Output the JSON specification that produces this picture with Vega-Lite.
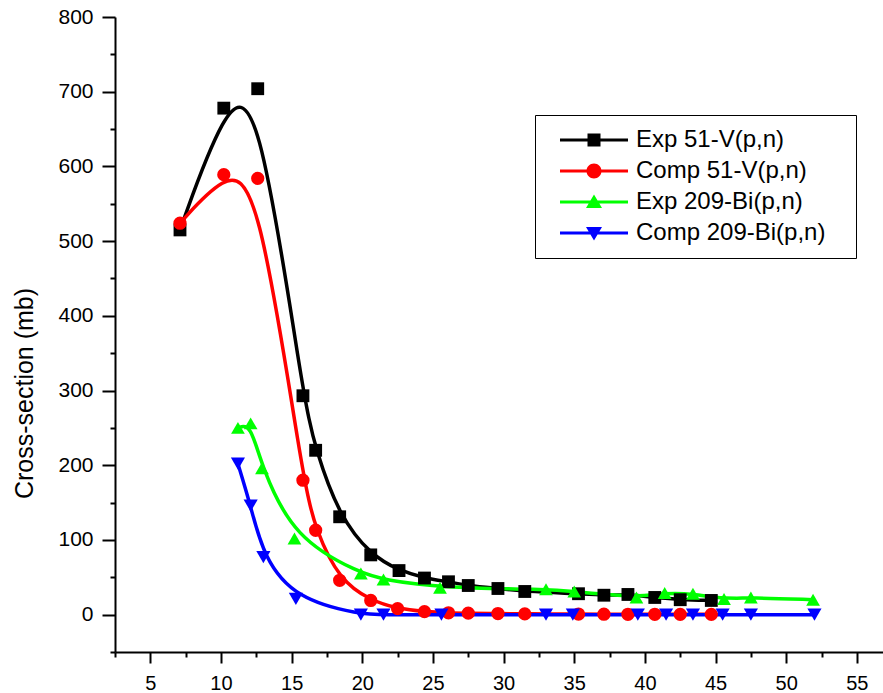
{
  "$schema": "https://vega.github.io/schema/vega-lite/v6.json",
  "autosize": "none",
  "width": 768,
  "height": 635,
  "padding": {"left": 115, "top": 17, "right": 0, "bottom": 41},
  "background": "white",
  "config": {
    "view": {"stroke": null},
    "axis": {
      "grid": false,
      "domainColor": "black",
      "domainWidth": 2,
      "tickColor": "black",
      "tickWidth": 2,
      "labelColor": "black",
      "labelFont": "Liberation Sans",
      "labelFontSize": 20,
      "titleColor": "black",
      "titleFont": "Liberation Sans Narrow, Liberation Sans",
      "titleFontWeight": "normal",
      "titleFontSize": 25
    }
  },
  "data": {
    "values": [
      {"series": "Exp 51-V(p,n)", "x": 7.1, "y": 515},
      {"series": "Exp 51-V(p,n)", "x": 10.2, "y": 678},
      {"series": "Exp 51-V(p,n)", "x": 12.6, "y": 704},
      {"series": "Exp 51-V(p,n)", "x": 15.8, "y": 293},
      {"series": "Exp 51-V(p,n)", "x": 16.7, "y": 220},
      {"series": "Exp 51-V(p,n)", "x": 18.4, "y": 131},
      {"series": "Exp 51-V(p,n)", "x": 20.6, "y": 80},
      {"series": "Exp 51-V(p,n)", "x": 22.6, "y": 59},
      {"series": "Exp 51-V(p,n)", "x": 24.4, "y": 49},
      {"series": "Exp 51-V(p,n)", "x": 26.1, "y": 44},
      {"series": "Exp 51-V(p,n)", "x": 27.5, "y": 39},
      {"series": "Exp 51-V(p,n)", "x": 29.6, "y": 35},
      {"series": "Exp 51-V(p,n)", "x": 31.5, "y": 31},
      {"series": "Exp 51-V(p,n)", "x": 35.3, "y": 28},
      {"series": "Exp 51-V(p,n)", "x": 37.1, "y": 26},
      {"series": "Exp 51-V(p,n)", "x": 38.8, "y": 27},
      {"series": "Exp 51-V(p,n)", "x": 40.7, "y": 23},
      {"series": "Exp 51-V(p,n)", "x": 42.5, "y": 20},
      {"series": "Exp 51-V(p,n)", "x": 44.7, "y": 19},
      {"series": "Comp 51-V(p,n)", "x": 7.1, "y": 524},
      {"series": "Comp 51-V(p,n)", "x": 10.2, "y": 589},
      {"series": "Comp 51-V(p,n)", "x": 12.6, "y": 584},
      {"series": "Comp 51-V(p,n)", "x": 15.8, "y": 180},
      {"series": "Comp 51-V(p,n)", "x": 16.7, "y": 113},
      {"series": "Comp 51-V(p,n)", "x": 18.4, "y": 46},
      {"series": "Comp 51-V(p,n)", "x": 20.6, "y": 19},
      {"series": "Comp 51-V(p,n)", "x": 22.5, "y": 8},
      {"series": "Comp 51-V(p,n)", "x": 24.4, "y": 4},
      {"series": "Comp 51-V(p,n)", "x": 26.1, "y": 2.5},
      {"series": "Comp 51-V(p,n)", "x": 27.5, "y": 2},
      {"series": "Comp 51-V(p,n)", "x": 29.6, "y": 1.5},
      {"series": "Comp 51-V(p,n)", "x": 31.5, "y": 1},
      {"series": "Comp 51-V(p,n)", "x": 35.3, "y": 0.8},
      {"series": "Comp 51-V(p,n)", "x": 37.1, "y": 0.6},
      {"series": "Comp 51-V(p,n)", "x": 38.8, "y": 0.5},
      {"series": "Comp 51-V(p,n)", "x": 40.7, "y": 0.5},
      {"series": "Comp 51-V(p,n)", "x": 42.5, "y": 0.4},
      {"series": "Comp 51-V(p,n)", "x": 44.7, "y": 0.4},
      {"series": "Exp 209-Bi(p,n)", "x": 11.2, "y": 250},
      {"series": "Exp 209-Bi(p,n)", "x": 12.1, "y": 256},
      {"series": "Exp 209-Bi(p,n)", "x": 12.9, "y": 196},
      {"series": "Exp 209-Bi(p,n)", "x": 15.2, "y": 102},
      {"series": "Exp 209-Bi(p,n)", "x": 19.9, "y": 55},
      {"series": "Exp 209-Bi(p,n)", "x": 21.5, "y": 47},
      {"series": "Exp 209-Bi(p,n)", "x": 25.5, "y": 36},
      {"series": "Exp 209-Bi(p,n)", "x": 33.0, "y": 34},
      {"series": "Exp 209-Bi(p,n)", "x": 35.0, "y": 31},
      {"series": "Exp 209-Bi(p,n)", "x": 39.4, "y": 23},
      {"series": "Exp 209-Bi(p,n)", "x": 41.4, "y": 29},
      {"series": "Exp 209-Bi(p,n)", "x": 43.4, "y": 28},
      {"series": "Exp 209-Bi(p,n)", "x": 45.6, "y": 21},
      {"series": "Exp 209-Bi(p,n)", "x": 47.5, "y": 23},
      {"series": "Exp 209-Bi(p,n)", "x": 51.9, "y": 20},
      {"series": "Comp 209-Bi(p,n)", "x": 11.2, "y": 202},
      {"series": "Comp 209-Bi(p,n)", "x": 12.1, "y": 146},
      {"series": "Comp 209-Bi(p,n)", "x": 13.0, "y": 77},
      {"series": "Comp 209-Bi(p,n)", "x": 15.3, "y": 21},
      {"series": "Comp 209-Bi(p,n)", "x": 19.9, "y": 0},
      {"series": "Comp 209-Bi(p,n)", "x": 21.5, "y": 0},
      {"series": "Comp 209-Bi(p,n)", "x": 25.6, "y": 0},
      {"series": "Comp 209-Bi(p,n)", "x": 33.0, "y": 0},
      {"series": "Comp 209-Bi(p,n)", "x": 34.9, "y": 0},
      {"series": "Comp 209-Bi(p,n)", "x": 39.5, "y": 0},
      {"series": "Comp 209-Bi(p,n)", "x": 41.5, "y": 0},
      {"series": "Comp 209-Bi(p,n)", "x": 43.4, "y": 0},
      {"series": "Comp 209-Bi(p,n)", "x": 45.5, "y": 0},
      {"series": "Comp 209-Bi(p,n)", "x": 47.5, "y": 0},
      {"series": "Comp 209-Bi(p,n)", "x": 52.0, "y": 0}
    ]
  },
  "encoding": {
    "x": {
      "field": "x",
      "type": "quantitative",
      "scale": {"domain": [2.5, 56.85], "nice": false, "zero": false},
      "axis": {
        "title": null,
        "values": [2.5, 5, 7.5, 10, 12.5, 15, 17.5, 20, 22.5, 25, 27.5, 30, 32.5, 35, 37.5, 40, 42.5, 45, 47.5, 50, 52.5, 55],
        "labelExpr": "datum.value % 5 === 0 ? datum.label : ''",
        "tickSize": {"condition": {"test": "datum.value % 5 === 0", "value": 11}, "value": 5},
        "labelPadding": 10,
        "labelFlush": false,
        "labelOverlap": false
      }
    },
    "y": {
      "field": "y",
      "type": "quantitative",
      "scale": {"domain": [-50, 800], "nice": false, "zero": false},
      "axis": {
        "title": "Cross-section (mb)",
        "values": [-50, 0, 50, 100, 150, 200, 250, 300, 350, 400, 450, 500, 550, 600, 650, 700, 750, 800],
        "labelExpr": "datum.value % 100 === 0 ? datum.label : ''",
        "tickSize": {"condition": {"test": "datum.value % 100 === 0", "value": 13}, "value": 5},
        "labelPadding": 9,
        "labelFontSize": 21,
        "labelFlush": false,
        "labelOverlap": false,
        "titleX": -91,
        "titleY": 376,
        "titleAngle": 270,
        "titleAlign": "center",
        "titleBaseline": "middle"
      }
    }
  },
  "layer": [
    {
      "mark": {"type": "line", "interpolate": "basis", "strokeWidth": 3.5},
      "encoding": {
        "color": {
          "field": "series",
          "type": "nominal",
          "scale": {"domain": ["Exp 51-V(p,n)", "Comp 51-V(p,n)", "Exp 209-Bi(p,n)", "Comp 209-Bi(p,n)"], "range": ["#000000", "#ff0000", "#00ff00", "#0000ff"]},
          "legend": null
        }
      }
    },
    {
      "mark": {"type": "point", "filled": true, "opacity": 1},
      "encoding": {
        "color": {
          "field": "series",
          "type": "nominal",
          "scale": {"domain": ["Exp 51-V(p,n)", "Comp 51-V(p,n)", "Exp 209-Bi(p,n)", "Comp 209-Bi(p,n)"], "range": ["#000000", "#ff0000", "#00ff00", "#0000ff"]},
          "legend": null
        },
        "shape": {
          "field": "series",
          "type": "nominal",
          "scale": {"domain": ["Exp 51-V(p,n)", "Comp 51-V(p,n)", "Exp 209-Bi(p,n)", "Comp 209-Bi(p,n)"], "range": ["square", "circle", "triangle-up", "triangle-down"]},
          "legend": null
        },
        "size": {
          "field": "series",
          "type": "nominal",
          "scale": {"domain": ["Exp 51-V(p,n)", "Comp 51-V(p,n)", "Exp 209-Bi(p,n)", "Comp 209-Bi(p,n)"], "range": [165, 200, 320, 320]},
          "legend": null
        }
      }
    },
    {
      "transform": [{"filter": "false"}],
      "mark": {"type": "point", "filled": true, "opacity": 1},
      "encoding": {
        "color": {
          "field": "series",
          "type": "nominal",
          "scale": {"domain": ["Exp 51-V(p,n)", "Comp 51-V(p,n)", "Exp 209-Bi(p,n)", "Comp 209-Bi(p,n)"], "range": ["#000000", "#ff0000", "#00ff00", "#0000ff"]},
          "legend": {"title": "\u00a0", "titleOrient": "right", "titlePadding": 18, "titleFontSize": 4, "orient": "none", "legendX": 420, "legendY": 98, "strokeColor": "black", "padding": 13, "labelFont": "Liberation Sans", "labelFontSize": 24, "labelColor": "black", "symbolSize": 400, "symbolStrokeWidth": 0, "symbolOffset": 34, "labelOffset": 30, "rowPadding": 7, "labelLimit": 400}
        },
        "shape": {
          "field": "series",
          "type": "nominal",
          "scale": {"domain": ["Exp 51-V(p,n)", "Comp 51-V(p,n)", "Exp 209-Bi(p,n)", "Comp 209-Bi(p,n)"], "range": ["M-3.4,-0.15H3.4V0.15H-3.4ZM-0.65,-0.65H0.65V0.65H-0.65Z", "M-3.4,-0.15H3.4V0.15H-3.4ZM-0.75,0A0.75,0.75,0,1,1,0.75,0A0.75,0.75,0,1,1,-0.75,0Z", "M-3.4,-0.15H3.4V0.15H-3.4ZM0,-0.75L0.8,0.6L-0.8,0.6Z", "M-3.4,-0.15H3.4V0.15H-3.4ZM0,0.75L-0.8,-0.6L0.8,-0.6Z"]},
          "legend": {"title": "\u00a0", "titleOrient": "right", "titlePadding": 18, "titleFontSize": 4, "orient": "none", "legendX": 420, "legendY": 98, "strokeColor": "black", "padding": 13, "labelFont": "Liberation Sans", "labelFontSize": 24, "labelColor": "black", "symbolSize": 400, "symbolStrokeWidth": 0, "symbolOffset": 34, "labelOffset": 30, "rowPadding": 7, "labelLimit": 400}
        }
      }
    }
  ],
  "resolve": {"scale": {"color": "independent", "shape": "independent", "size": "independent"}}
}
